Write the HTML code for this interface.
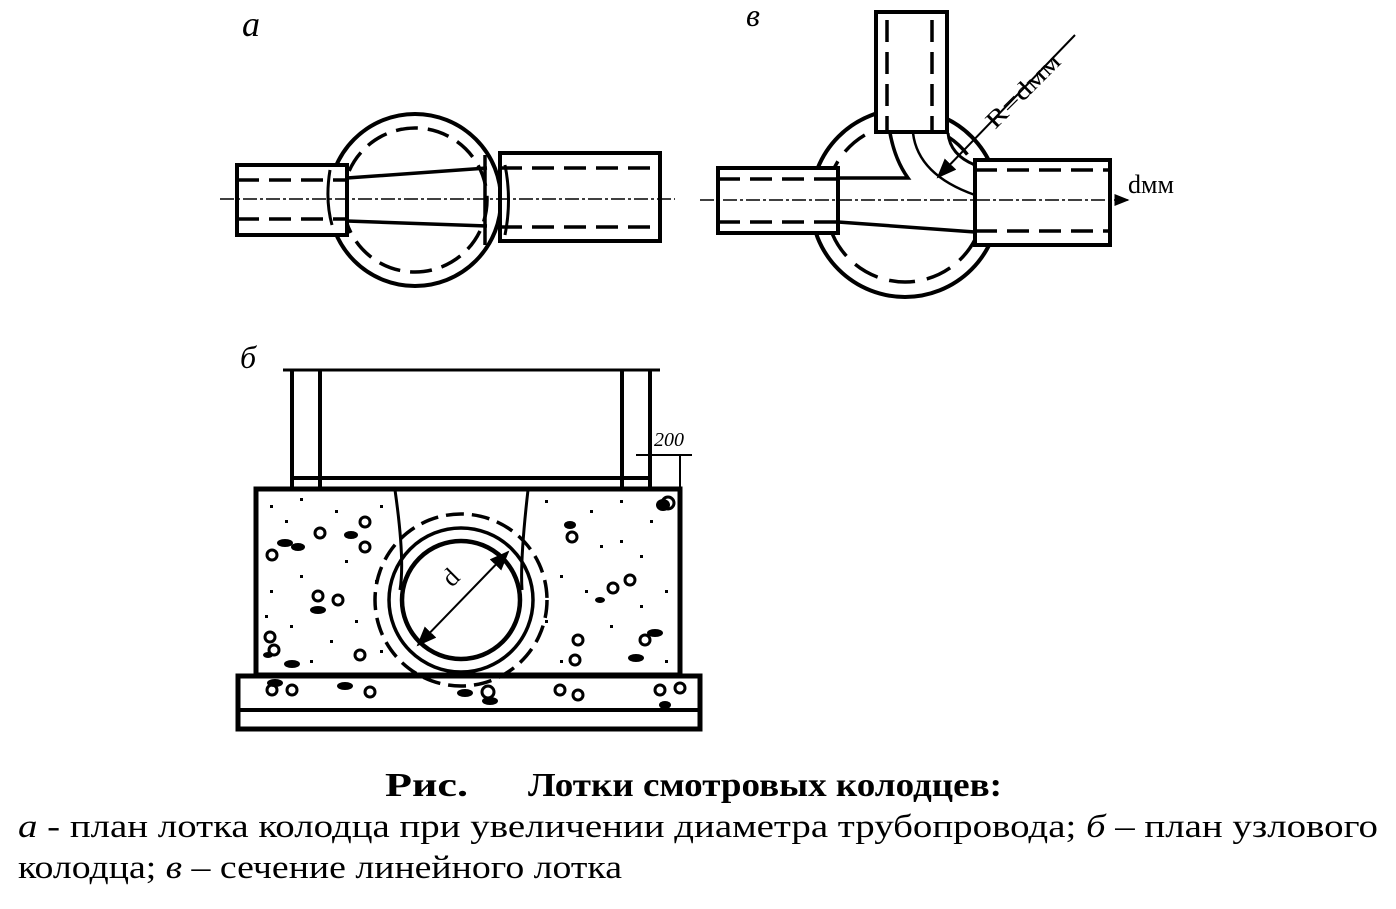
<!DOCTYPE html>
<html><head><meta charset="utf-8"><style>
html,body{margin:0;padding:0;background:#fff;width:1396px;height:909px;overflow:hidden}
svg{display:block}
</style></head><body>
<svg width="1396" height="909" viewBox="0 0 1396 909" xmlns="http://www.w3.org/2000/svg">
<defs>
<marker id="ar" markerWidth="10" markerHeight="8" refX="9" refY="4" orient="auto-start-reverse"><path d="M0,0 L10,4 L0,8 z" fill="#000"/></marker>
</defs>
<g fill="none" stroke="#000" stroke-width="4">
<!-- Figure a -->
<circle cx="415" cy="200" r="86"/>
<circle cx="415" cy="200" r="72" stroke-dasharray="22 10" stroke-width="3.5"/>
<rect x="237" y="165" width="110" height="70" fill="#fff"/>
<path d="M237 180 H345 M237 219 H345" stroke-dasharray="22 10" stroke-width="3.5"/>
<rect x="500" y="153" width="160" height="88" fill="#fff"/>
<path d="M500 168 H660 M500 227 H660" stroke-dasharray="22 10" stroke-width="3.5"/>
<path d="M347 178 L487 168 M347 221 L487 226" stroke-width="3.5"/>
<path d="M485 155 V245" stroke-width="3.5"/>
<path d="M330 170 Q325 200 332 225 M505 165 Q512 200 505 235" stroke-width="3"/>
<path d="M220 199 H675" stroke-width="1.5" stroke-dasharray="14 3 3 3"/>
<!-- Figure v -->
<circle cx="905" cy="203" r="94"/>
<circle cx="905" cy="203" r="79" stroke-dasharray="26 12" stroke-width="3.5"/>
<rect x="718" y="168" width="120" height="65" fill="#fff"/>
<path d="M718 179 H836 M718 222 H836" stroke-dasharray="22 10" stroke-width="3.5"/>
<rect x="975" y="160" width="135" height="85" fill="#fff"/>
<path d="M975 170 H1110 M975 231 H1110" stroke-dasharray="22 10" stroke-width="3.5"/>
<rect x="876" y="12" width="71" height="120" fill="#fff"/>
<path d="M887 20 V130 M932 20 V130" stroke-dasharray="22 10" stroke-width="3.5"/>
<path d="M838 178 L908 178 Q895 160 890 133" stroke-width="3.5"/>
<path d="M838 222 L975 232" stroke-width="3.5"/>
<path d="M913 133 Q918 175 975 195" stroke-width="2.5"/>
<path d="M948 133 Q950 155 975 165" stroke-width="3"/>
<path d="M700 200 H1128" stroke-width="1.5" stroke-dasharray="14 3 3 3" marker-end="url(#ar)"/>
<path d="M1075 35 L938 177" stroke-width="2" marker-end="url(#ar)"/>
<!-- Figure b -->
<path d="M283 370 H660" stroke-width="3"/>
<path d="M292 370 V488 M320 370 V488 M622 370 V488 M650 370 V488 M292 478 H650" stroke-width="4"/>
<rect x="256" y="489" width="424" height="186" stroke-width="5"/>
<rect x="238" y="676" width="462" height="53" stroke-width="5"/>
<path d="M238 710 H700" stroke-width="4"/>
<path d="M395 490 Q405 560 400 590 M528 490 Q520 560 522 590" stroke-width="3"/>
<circle cx="461" cy="600" r="59" stroke-width="4.5"/>
<circle cx="461" cy="600" r="72" stroke-width="3.5"/>
<circle cx="461" cy="600" r="86" stroke-dasharray="18 8" stroke-width="3.5"/>
<path d="M418 645 L508 552" stroke-width="2" marker-end="url(#ar)" marker-start="url(#ar)"/>
<path d="M636 455 H692 M680 455 V488" stroke-width="2"/>
</g>
<!-- gravel -->
<g fill="none" stroke="#000" stroke-width="3">
<circle cx="365" cy="522" r="5"/><circle cx="365" cy="547" r="5"/><circle cx="320" cy="533" r="5"/>
<circle cx="272" cy="555" r="5"/><circle cx="318" cy="596" r="5"/><circle cx="338" cy="600" r="5"/>
<circle cx="270" cy="637" r="5"/><circle cx="274" cy="650" r="5"/><circle cx="360" cy="655" r="5"/>
<circle cx="572" cy="537" r="5"/><circle cx="578" cy="640" r="5"/><circle cx="575" cy="660" r="5"/>
<circle cx="630" cy="580" r="5"/><circle cx="613" cy="588" r="5"/><circle cx="645" cy="640" r="5"/>
<circle cx="668" cy="503" r="6"/><circle cx="272" cy="690" r="5"/><circle cx="292" cy="690" r="5"/>
<circle cx="370" cy="692" r="5"/><circle cx="488" cy="692" r="6"/><circle cx="578" cy="695" r="5"/>
<circle cx="660" cy="690" r="5"/><circle cx="680" cy="688" r="5"/><circle cx="560" cy="690" r="5"/>
</g>
<g fill="#000">
<ellipse cx="285" cy="543" rx="8" ry="4"/><ellipse cx="298" cy="547" rx="7" ry="4"/><ellipse cx="351" cy="535" rx="7" ry="4"/>
<ellipse cx="318" cy="610" rx="8" ry="4"/><ellipse cx="292" cy="664" rx="8" ry="4"/><ellipse cx="268" cy="655" rx="5" ry="3"/>
<ellipse cx="600" cy="600" rx="5" ry="3"/><ellipse cx="655" cy="633" rx="8" ry="4"/><ellipse cx="636" cy="658" rx="8" ry="4"/>
<ellipse cx="570" cy="525" rx="6" ry="4"/><ellipse cx="275" cy="683" rx="8" ry="4"/><ellipse cx="345" cy="686" rx="8" ry="4"/>
<ellipse cx="465" cy="693" rx="8" ry="4"/><ellipse cx="490" cy="701" rx="8" ry="4"/><ellipse cx="665" cy="705" rx="6" ry="4"/>
<ellipse cx="663" cy="505" rx="7" ry="6"/>
</g>
<g fill="#000">
<rect x="270" y="505" width="3" height="3"/><rect x="300" y="498" width="3" height="3"/><rect x="285" y="520" width="3" height="3"/>
<rect x="335" y="510" width="3" height="3"/><rect x="380" y="505" width="3" height="3"/><rect x="345" y="560" width="3" height="3"/>
<rect x="300" y="575" width="3" height="3"/><rect x="270" y="590" width="3" height="3"/><rect x="375" y="580" width="3" height="3"/>
<rect x="355" y="620" width="3" height="3"/><rect x="290" y="625" width="3" height="3"/><rect x="330" y="640" width="3" height="3"/>
<rect x="380" y="650" width="3" height="3"/><rect x="265" y="615" width="3" height="3"/><rect x="310" y="660" width="3" height="3"/>
<rect x="545" y="500" width="3" height="3"/><rect x="590" y="510" width="3" height="3"/><rect x="620" y="500" width="3" height="3"/>
<rect x="650" y="520" width="3" height="3"/><rect x="600" y="545" width="3" height="3"/><rect x="640" y="555" width="3" height="3"/>
<rect x="560" y="575" width="3" height="3"/><rect x="665" y="590" width="3" height="3"/><rect x="545" y="620" width="3" height="3"/>
<rect x="610" y="625" width="3" height="3"/><rect x="560" y="660" width="3" height="3"/><rect x="665" y="660" width="3" height="3"/>
<rect x="640" y="605" width="3" height="3"/><rect x="585" y="590" width="3" height="3"/><rect x="620" y="540" width="3" height="3"/>
</g>
<g font-family="'Liberation Serif', serif" fill="#000">
<text x="242" y="36" font-size="36" font-style="italic">а</text>
<text x="746" y="26" font-size="32" font-style="italic">в</text>
<text x="240" y="368" font-size="32" font-style="italic">б</text>
<text x="1128" y="193" font-size="26">dмм</text>
<text x="0" y="0" font-size="24" transform="translate(995,130) rotate(-45)" textLength="95" lengthAdjust="spacingAndGlyphs">R=dмм</text>
<text x="0" y="0" font-size="26" transform="translate(452,588) rotate(-45)">d</text>
<text x="654" y="446" font-size="20" font-style="italic">200</text>
<text x="385" y="796" font-size="34" font-weight="bold" textLength="83" lengthAdjust="spacingAndGlyphs">Рис.</text>
<text x="528" y="796" font-size="34" font-weight="bold" textLength="474" lengthAdjust="spacingAndGlyphs">Лотки смотровых колодцев:</text>
<text x="18" y="837" font-size="33" textLength="1360" lengthAdjust="spacingAndGlyphs"><tspan font-style="italic">а</tspan> - план лотка колодца при увеличении диаметра трубопровода; <tspan font-style="italic">б</tspan> – план узлового</text>
<text x="18" y="878" font-size="33" textLength="604" lengthAdjust="spacingAndGlyphs">колодца; <tspan font-style="italic">в</tspan> – сечение линейного лотка</text>
</g>
</svg>
</body></html>
